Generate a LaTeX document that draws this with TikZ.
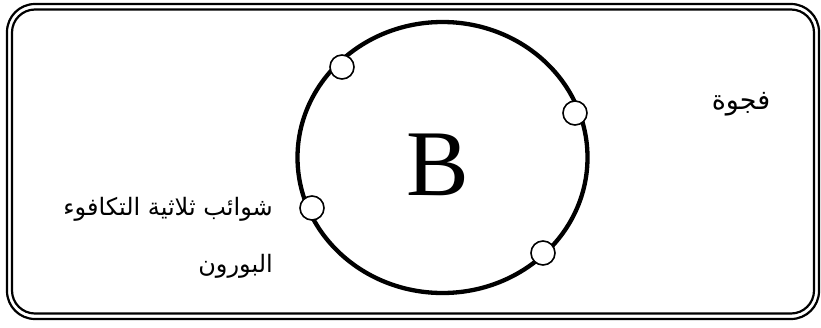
\documentclass[tikz,border=0pt]{standalone}
\usepackage{fontspec}
\usetikzlibrary{shapes.geometric}
\TeXXeTstate=1
\newfontfamily\arabicfont[Script=Arabic]{DejaVu Sans}
\newfontfamily\bfontfam{Liberation Serif}
\tikzset{
  frameline/.style={line width=2.2pt, rounded corners=#1},
  hole/.style={circle, draw, line width=1.6pt, fill=white, minimum size=24pt, inner sep=0pt},
  artext/.style={font=\arabicfont\fontsize{#1}{#1}\selectfont, inner sep=0pt}
}
\begin{document}
\begin{tikzpicture}[x=1pt,y=-1pt]
\useasboundingbox (0,0) rectangle (821,327);
\draw[frameline=28pt] (7,4) rectangle (819,319);
\draw[frameline=23pt] (12,9.5) rectangle (814,313.5);
\node[ellipse, draw, line width=4.3pt, minimum width=290pt, minimum height=271pt, inner sep=0pt] (atom) at (442.5,157.5) {};
\node[font=\bfontfam\fontsize{94pt}{94pt}\selectfont, inner sep=0pt] (B) at (438,165) {B};
\node[hole] (h1) at (342,67) {};
\node[hole] (h2) at (575,113) {};
\node[hole] (h3) at (312,208) {};
\node[hole] (h4) at (543,253) {};
\node[artext=27pt, anchor=center] (gap) at (741,104) {\beginR فجوة\endR};
\node[artext=24pt, anchor=east] (imp1) at (273,209) {\beginR شوائب ثلاثية التكافوء\endR};
\node[artext=24pt, anchor=east] (imp2) at (273,266) {\beginR البورون\endR};
\end{tikzpicture}
\end{document}
